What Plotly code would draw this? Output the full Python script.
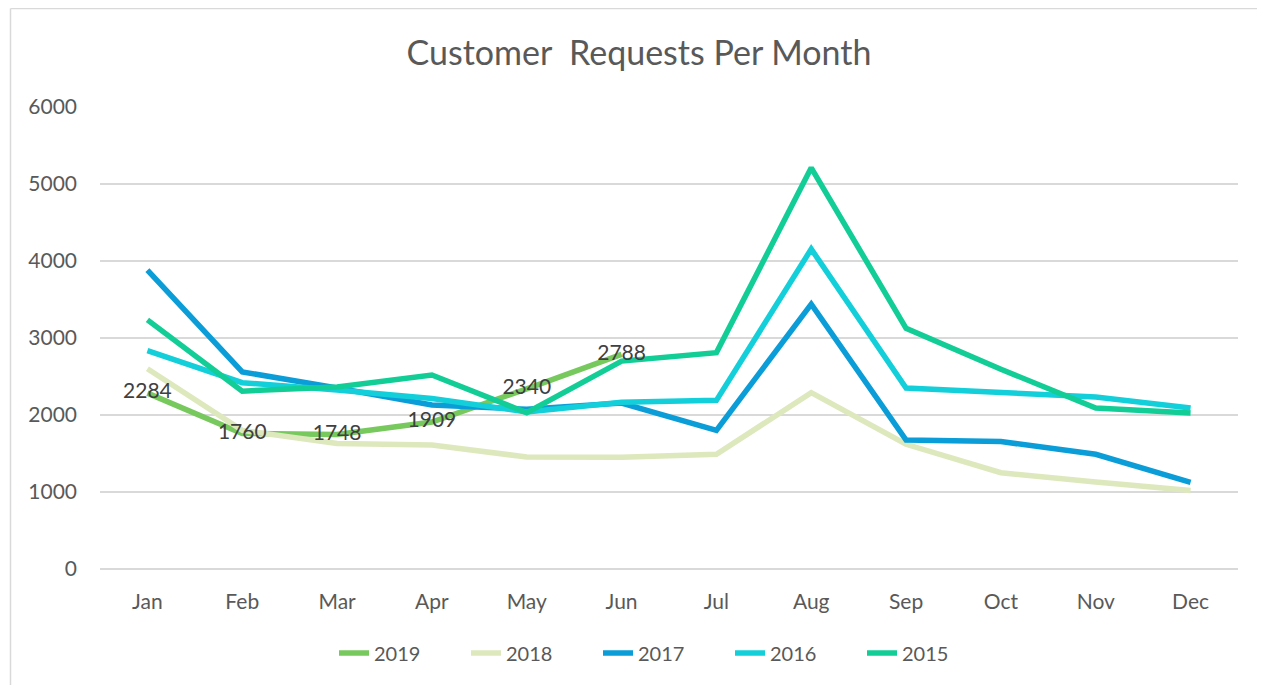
import plotly.graph_objects as go

months = ["Jan", "Feb", "Mar", "Apr", "May", "Jun", "Jul", "Aug", "Sep", "Oct", "Nov", "Dec"]

y2019 = [2284, 1760, 1748, 1909, 2340, 2788]
y2018 = [2600, 1800, 1630, 1610, 1455, 1450, 1490, 2290, 1620, 1250, 1130, 1020]
y2017 = [3880, 2560, 2350, 2130, 2075, 2155, 1800, 3440, 1675, 1655, 1490, 1125]
y2016 = [2835, 2420, 2325, 2215, 2040, 2165, 2190, 4155, 2350, 2300, 2235, 2090]
y2015 = [3235, 2310, 2365, 2520, 2030, 2700, 2810, 5210, 3125, 2595, 2090, 2025]

series = [
    ("2019", y2019, "#77C95D"),
    ("2018", y2018, "#DDE8BD"),
    ("2017", y2017, "#0A9DD8"),
    ("2016", y2016, "#13CFDA"),
    ("2015", y2015, "#12CE96"),
]

FONT = "Lato"
fig = go.Figure()
for name, vals, color in series:
    fig.add_trace(go.Scatter(
        x=months[:len(vals)], y=vals, name=name, mode="lines",
        line=dict(color=color, width=5.5), hoverinfo="skip",
    ))

# data labels for 2019, drawn on top of all lines
fig.add_trace(go.Scatter(
    x=months[:len(y2019)], y=y2019, mode="text", showlegend=False,
    text=[str(v) for v in y2019], textposition="middle center",
    textfont=dict(family=FONT, size=21, color="#404040"), cliponaxis=False,
    hoverinfo="skip",
))

# page has an 8px body margin: figure coords = screenshot coords - 8
W, H = 1257, 677
L, R, T, B = 92, 1230, 99, 561

def px(x):
    return (x - L) / (R - L)

def py(y):
    return (B - y) / (B - T)

# chart-area border (left and top edges visible)
fig.add_shape(type="line", xref="paper", yref="paper",
              x0=px(2.5), x1=px(2.5), y0=py(0.5), y1=py(700),
              line=dict(color="#D9D9D9", width=1.5), layer="below")
fig.add_shape(type="line", xref="paper", yref="paper",
              x0=px(2.5), x1=px(1300), y0=py(0.5), y1=py(0.5),
              line=dict(color="#D9D9D9", width=1.5), layer="below")

fig.update_layout(
    width=W, height=H,
    margin=dict(l=L, r=W - R, t=T, b=H - B, pad=0),
    paper_bgcolor="white", plot_bgcolor="white",
    font=dict(family=FONT, color="#595959", size=19),
    title=dict(text="Customer  Requests Per Month", x=631 / W, xref="container",
               xanchor="center", y=1 - 45 / H, yanchor="middle",
               font=dict(family=FONT, size=34, color="#595959")),
    showlegend=True,
    legend=dict(orientation="h", x=656 / W, xref="container", xanchor="center",
                y=1 - 645 / H, yref="container", yanchor="middle",
                font=dict(family=FONT, size=20, color="#595959"),
                entrywidth=87, entrywidthmode="pixels", tracegroupgap=0),
    xaxis=dict(type="category", categoryorder="array", categoryarray=months,
               range=[-0.5, 11.5], showgrid=False, zeroline=False, showline=False,
               ticks="", tickfont=dict(family=FONT, size=21, color="#595959"),
               ticklabelstandoff=18),
    yaxis=dict(range=[0, 6000], dtick=1000, showgrid=True, gridcolor="#D9D9D9", gridwidth=1.5,
               zeroline=True, zerolinecolor="#D9D9D9", zerolinewidth=1.5, showline=False,
               ticks="", tickfont=dict(family=FONT, size=21, color="#595959"),
               ticklabelstandoff=22),
)

fig.write_html("out.html")
